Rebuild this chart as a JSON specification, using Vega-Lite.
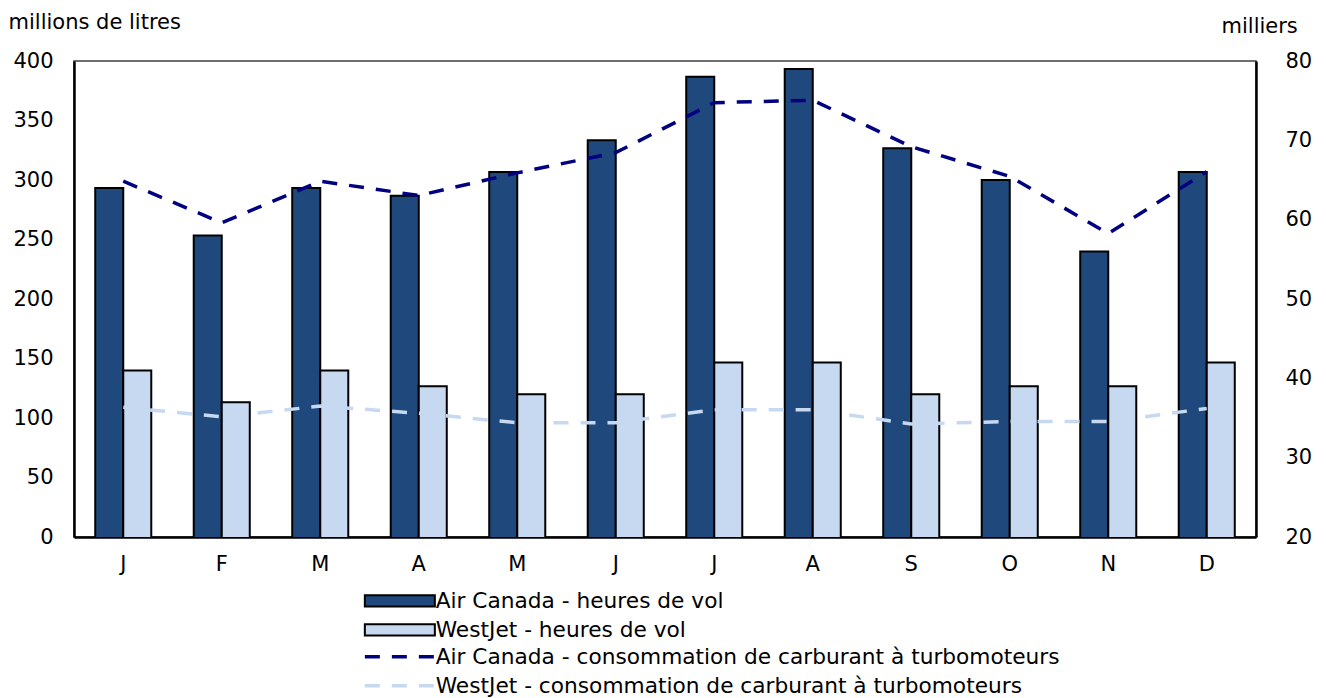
{
  "$schema": "https://vega.github.io/schema/vega-lite/v6.json",
  "width": 1182,
  "height": 476,
  "autosize": "none",
  "padding": {"left": 74, "top": 61, "right": 70, "bottom": 161},
  "background": "white",
  "config": {
    "font": "DejaVu Sans",
    "view": {"stroke": "#404040", "strokeWidth": 1.5},
    "axis": {
      "labelFont": "DejaVu Sans", "labelFontSize": 21, "labelColor": "#000",
      "titleFont": "DejaVu Sans", "titleFontSize": 21, "titleFontWeight": "normal", "titleColor": "#000",
      "grid": false, "ticks": false, "domainColor": "#000", "domainWidth": 2.5
    },
    "legend": {
      "orient": "none", "direction": "vertical",
      "labelFont": "DejaVu Sans", "labelFontSize": 21.7, "labelColor": "#000", "labelLimit": 900,
      "symbolSize": 196, "symbolOffset": 28, "labelOffset": 25, "rowPadding": 6
    }
  },
  "datasets": {
    "heures": [
      {"mois": "janvier", "serie": "Air Canada - heures de vol", "heures": 64},
      {"mois": "février", "serie": "Air Canada - heures de vol", "heures": 58},
      {"mois": "mars", "serie": "Air Canada - heures de vol", "heures": 64},
      {"mois": "avril", "serie": "Air Canada - heures de vol", "heures": 63},
      {"mois": "mai", "serie": "Air Canada - heures de vol", "heures": 66},
      {"mois": "juin", "serie": "Air Canada - heures de vol", "heures": 70},
      {"mois": "juillet", "serie": "Air Canada - heures de vol", "heures": 78},
      {"mois": "août", "serie": "Air Canada - heures de vol", "heures": 79},
      {"mois": "septembre", "serie": "Air Canada - heures de vol", "heures": 69},
      {"mois": "octobre", "serie": "Air Canada - heures de vol", "heures": 65},
      {"mois": "novembre", "serie": "Air Canada - heures de vol", "heures": 56},
      {"mois": "décembre", "serie": "Air Canada - heures de vol", "heures": 66},
      {"mois": "janvier", "serie": "WestJet - heures de vol", "heures": 41},
      {"mois": "février", "serie": "WestJet - heures de vol", "heures": 37},
      {"mois": "mars", "serie": "WestJet - heures de vol", "heures": 41},
      {"mois": "avril", "serie": "WestJet - heures de vol", "heures": 39},
      {"mois": "mai", "serie": "WestJet - heures de vol", "heures": 38},
      {"mois": "juin", "serie": "WestJet - heures de vol", "heures": 38},
      {"mois": "juillet", "serie": "WestJet - heures de vol", "heures": 42},
      {"mois": "août", "serie": "WestJet - heures de vol", "heures": 42},
      {"mois": "septembre", "serie": "WestJet - heures de vol", "heures": 38},
      {"mois": "octobre", "serie": "WestJet - heures de vol", "heures": 39},
      {"mois": "novembre", "serie": "WestJet - heures de vol", "heures": 39},
      {"mois": "décembre", "serie": "WestJet - heures de vol", "heures": 42}
    ],
    "carburant": [
      {"n": 1, "mois": "janvier", "serie": "Air Canada - consommation de carburant à turbomoteurs", "litres": 299},
      {"n": 2, "mois": "février", "serie": "Air Canada - consommation de carburant à turbomoteurs", "litres": 264},
      {"n": 3, "mois": "mars", "serie": "Air Canada - consommation de carburant à turbomoteurs", "litres": 299},
      {"n": 4, "mois": "avril", "serie": "Air Canada - consommation de carburant à turbomoteurs", "litres": 287},
      {"n": 5, "mois": "mai", "serie": "Air Canada - consommation de carburant à turbomoteurs", "litres": 306},
      {"n": 6, "mois": "juin", "serie": "Air Canada - consommation de carburant à turbomoteurs", "litres": 323},
      {"n": 7, "mois": "juillet", "serie": "Air Canada - consommation de carburant à turbomoteurs", "litres": 365},
      {"n": 8, "mois": "août", "serie": "Air Canada - consommation de carburant à turbomoteurs", "litres": 367},
      {"n": 9, "mois": "septembre", "serie": "Air Canada - consommation de carburant à turbomoteurs", "litres": 328},
      {"n": 10, "mois": "octobre", "serie": "Air Canada - consommation de carburant à turbomoteurs", "litres": 303},
      {"n": 11, "mois": "novembre", "serie": "Air Canada - consommation de carburant à turbomoteurs", "litres": 255},
      {"n": 12, "mois": "décembre", "serie": "Air Canada - consommation de carburant à turbomoteurs", "litres": 307},
      {"n": 1, "mois": "janvier", "serie": "WestJet - consommation de carburant à turbomoteurs", "litres": 109},
      {"n": 2, "mois": "février", "serie": "WestJet - consommation de carburant à turbomoteurs", "litres": 101},
      {"n": 3, "mois": "mars", "serie": "WestJet - consommation de carburant à turbomoteurs", "litres": 110},
      {"n": 4, "mois": "avril", "serie": "WestJet - consommation de carburant à turbomoteurs", "litres": 104},
      {"n": 5, "mois": "mai", "serie": "WestJet - consommation de carburant à turbomoteurs", "litres": 96},
      {"n": 6, "mois": "juin", "serie": "WestJet - consommation de carburant à turbomoteurs", "litres": 96},
      {"n": 7, "mois": "juillet", "serie": "WestJet - consommation de carburant à turbomoteurs", "litres": 107},
      {"n": 8, "mois": "août", "serie": "WestJet - consommation de carburant à turbomoteurs", "litres": 107},
      {"n": 9, "mois": "septembre", "serie": "WestJet - consommation de carburant à turbomoteurs", "litres": 95},
      {"n": 10, "mois": "octobre", "serie": "WestJet - consommation de carburant à turbomoteurs", "litres": 97},
      {"n": 11, "mois": "novembre", "serie": "WestJet - consommation de carburant à turbomoteurs", "litres": 97},
      {"n": 12, "mois": "décembre", "serie": "WestJet - consommation de carburant à turbomoteurs", "litres": 108}
    ]
  },
  "layer": [
    {
      "data": {"name": "heures"},
      "mark": {"type": "bar", "stroke": "#000", "strokeWidth": 2, "clip": true},
      "encoding": {
        "x": {
          "field": "mois", "type": "ordinal",
          "sort": ["janvier", "février", "mars", "avril", "mai", "juin", "juillet", "août", "septembre", "octobre", "novembre", "décembre"],
          "scale": {"paddingInner": 0.431, "paddingOuter": 0.2155},
          "axis": {"title": null, "labelAngle": 0, "labelPadding": 16, "labelExpr": "upper(slice(datum.label, 0, 1))"}
        },
        "xOffset": {
          "field": "serie", "type": "nominal",
          "sort": ["Air Canada - heures de vol", "WestJet - heures de vol"],
          "scale": {"paddingInner": 0, "paddingOuter": 0}
        },
        "y": {
          "field": "heures", "type": "quantitative",
          "scale": {"domain": [20, 80], "zero": false, "nice": false},
          "axis": {
            "orient": "right", "values": [20, 30, 40, 50, 60, 70, 80], "labelPadding": 29,
            "title": "milliers", "titleAngle": 0, "titleAlign": "left", "titleBaseline": "alphabetic",
            "titleX": -35, "titleY": -29
          }
        },
        "fill": {
          "field": "serie", "type": "nominal",
          "scale": {
            "domain": ["Air Canada - heures de vol", "WestJet - heures de vol"],
            "range": ["#1F497D", "#C6D9F1"]
          },
          "legend": {
            "title": null, "legendX": 287, "legendY": 529,
            "symbolType": "M-5,-0.8H5V0.8H-5Z", "symbolStrokeColor": "#000", "symbolStrokeWidth": 2
          }
        }
      }
    },
    {
      "data": {"name": "carburant"},
      "mark": {"type": "line", "strokeWidth": 3.5, "strokeDash": [15, 12]},
      "encoding": {
        "x": {
          "field": "mois", "type": "ordinal",
          "sort": ["janvier", "février", "mars", "avril", "mai", "juin", "juillet", "août", "septembre", "octobre", "novembre", "décembre"]
        },
        "y": {
          "field": "litres", "type": "quantitative",
          "scale": {"domain": [0, 400], "nice": false},
          "axis": {
            "orient": "left", "values": [0, 50, 100, 150, 200, 250, 300, 350, 400], "labelPadding": 21,
            "title": "millions de litres", "titleAngle": 0, "titleAlign": "left", "titleBaseline": "alphabetic",
            "titleX": -66, "titleY": -33
          }
        },
        "stroke": {
          "field": "serie", "type": "nominal",
          "scale": {
            "domain": ["Air Canada - consommation de carburant à turbomoteurs", "WestJet - consommation de carburant à turbomoteurs"],
            "range": ["#000080", "#C6D9F1"]
          },
          "legend": {
            "title": null, "legendX": 287, "legendY": 585,
            "symbolType": "M-5,0H5", "symbolStrokeWidth": 3.5, "symbolDash": [15, 12]
          }
        },
        "order": {"field": "n", "type": "quantitative"}
      }
    }
  ],
  "resolve": {"scale": {"y": "independent"}, "axis": {"y": "independent"}}
}
